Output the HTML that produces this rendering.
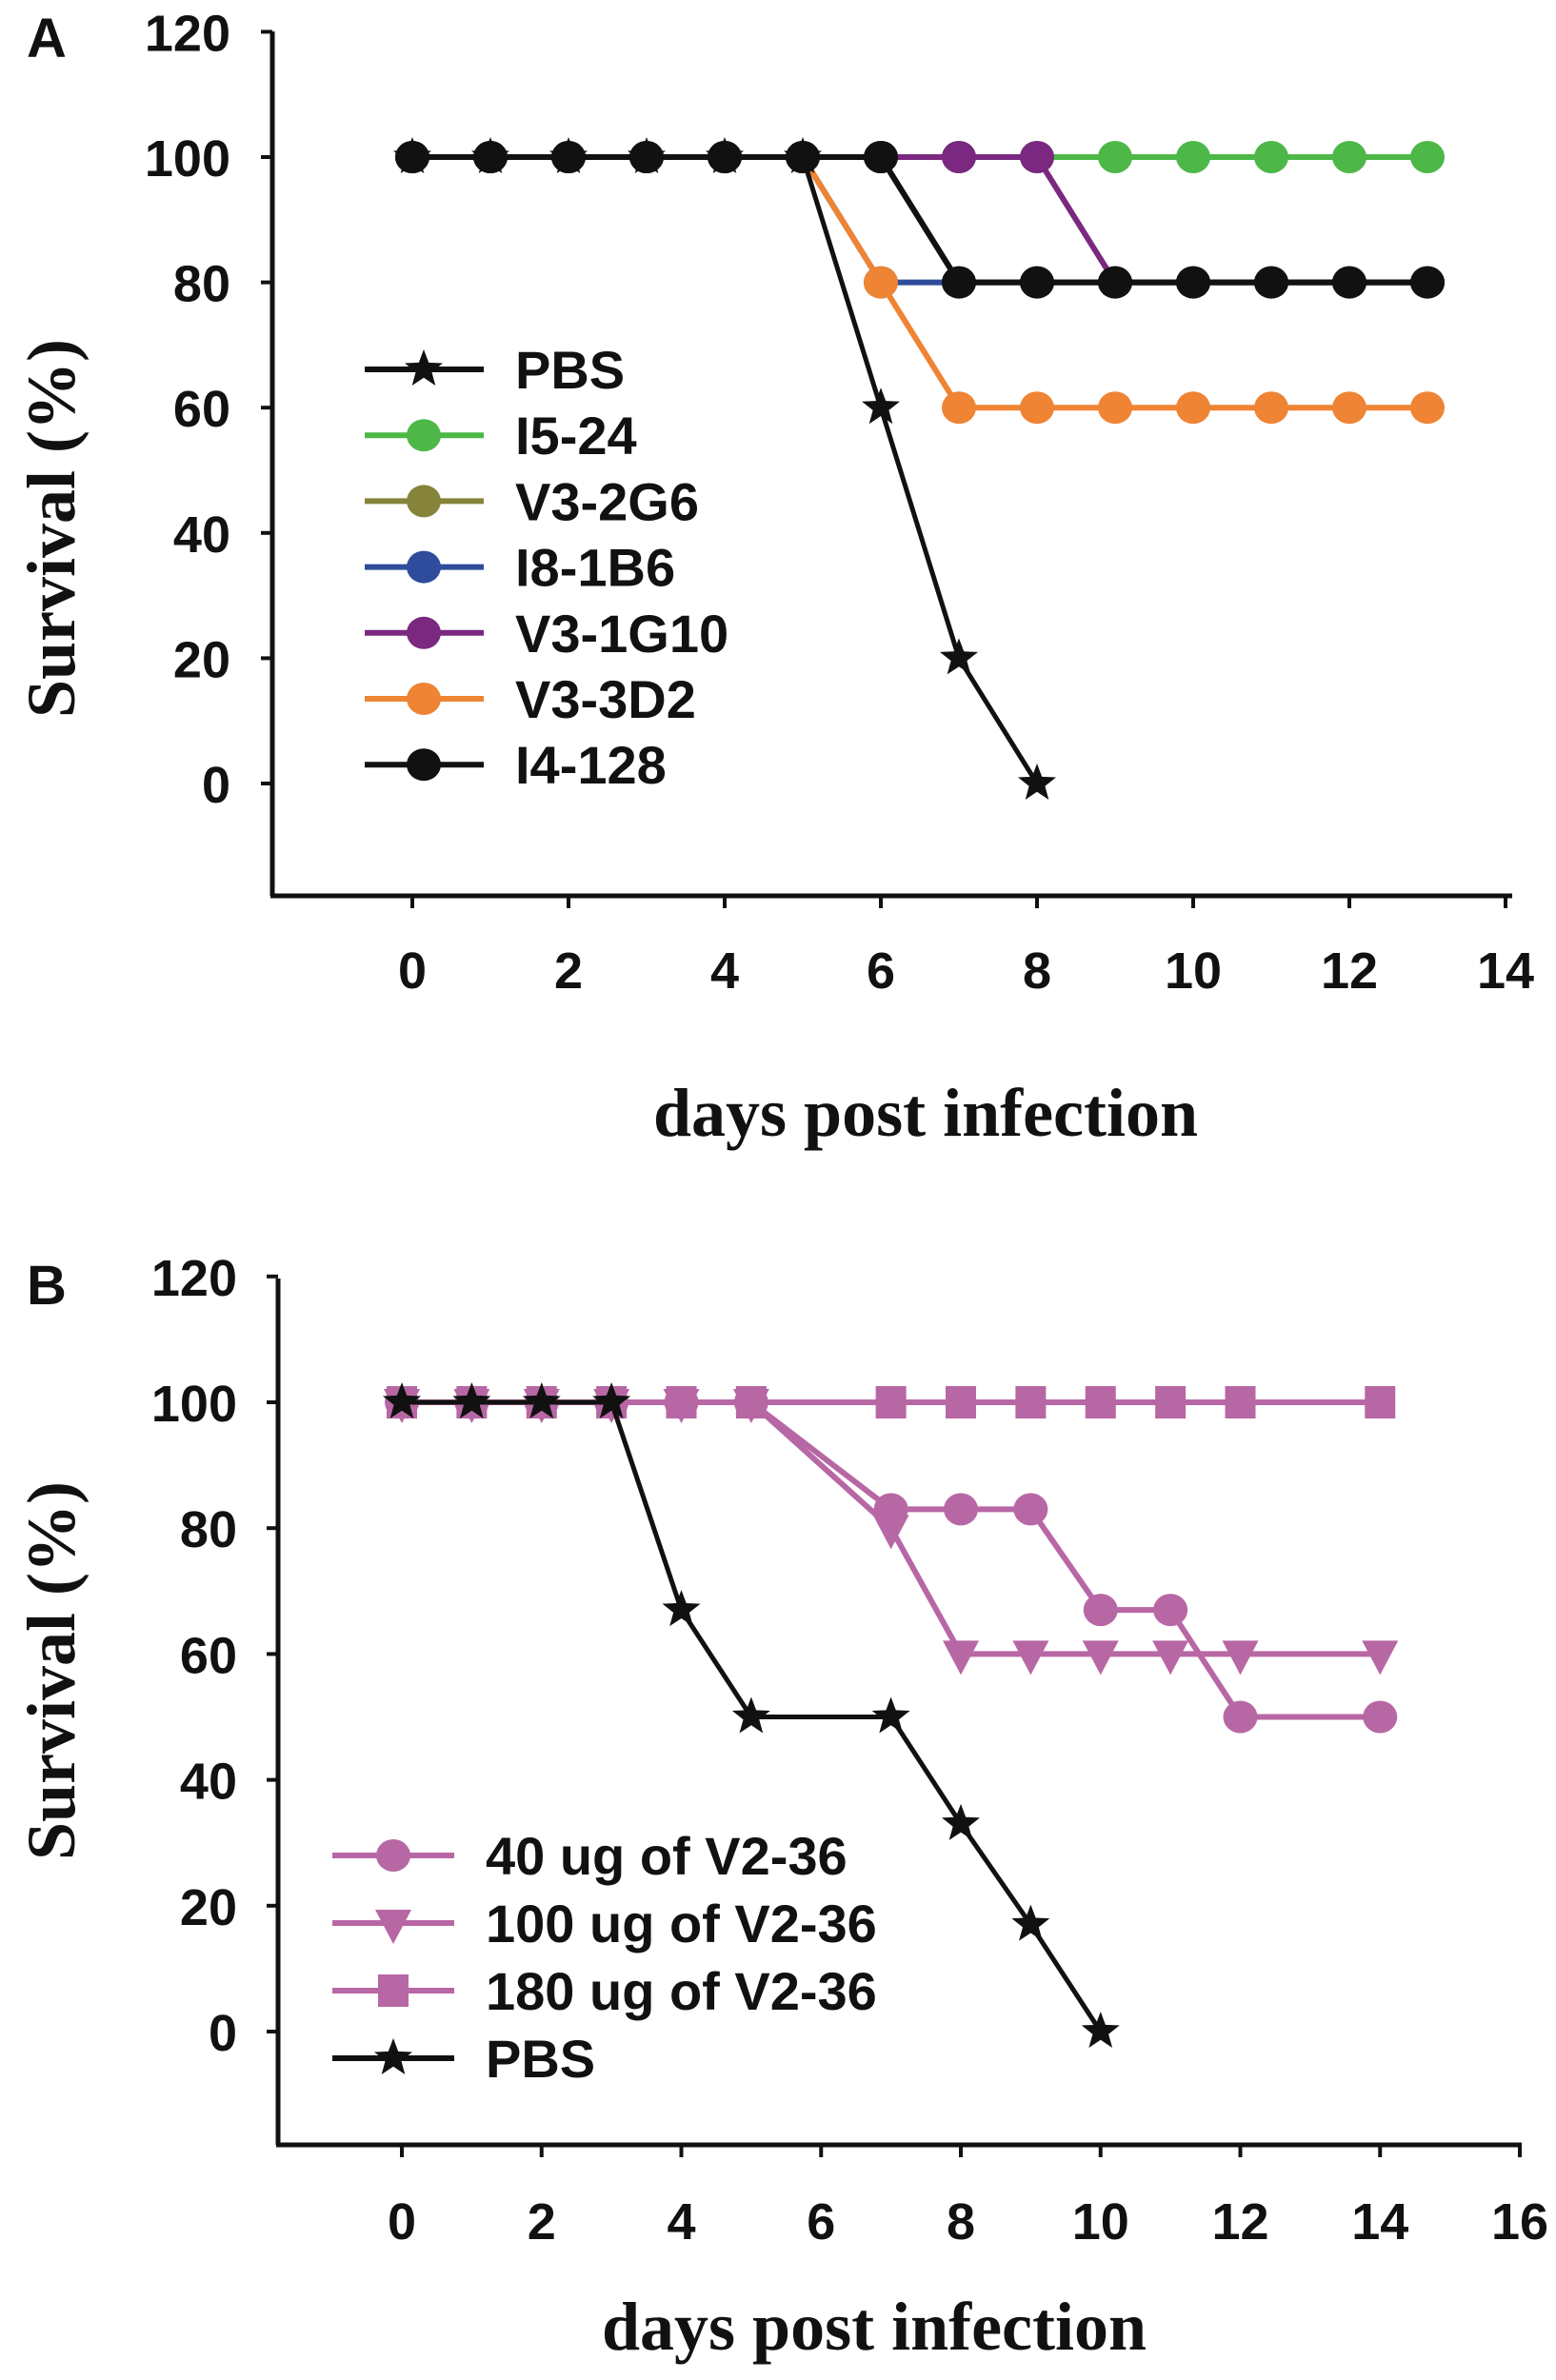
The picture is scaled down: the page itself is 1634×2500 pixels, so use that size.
<!DOCTYPE html>
<html><head><meta charset="utf-8"><style>
html,body{margin:0;padding:0;background:#fff;}
svg{display:block;}
.tk{font-family:"Liberation Sans",Arial,sans-serif;font-weight:bold;font-size:54px;fill:#111;}
.lg{font-family:"Liberation Sans",Arial,sans-serif;font-weight:bold;font-size:56px;fill:#111;}
.tt{font-family:"Liberation Serif","Times New Roman",serif;font-weight:bold;font-size:72px;fill:#111;}
</style></head><body>
<svg id="fig" width="1634" height="2500" viewBox="0 0 1634 2500" xmlns="http://www.w3.org/2000/svg">
<text x="28" y="60" class="tk" style="font-size:58px">A</text>
<text x="28" y="1370" class="tk" style="font-size:58px">B</text>
<text class="tt" transform="translate(78,555) rotate(-90)" text-anchor="middle">Survival (%)</text>
<text class="tt" transform="translate(78,1755) rotate(-90)" text-anchor="middle">Survival (%)</text>
<text class="tt" x="972" y="1193" text-anchor="middle">days post infection</text>
<text class="tt" x="918" y="2468" text-anchor="middle">days post infection</text>
</svg>
<script>
// Panel A data
const aDays = [0,1,2,3,4,5,6,7,8,9,10,11,12,13];
const aPBSDays = [0,1,2,3,4,5,6,7,8];
const aPBS = [100,100,100,100,100,100,60,20,0];
const aI524 = [100,100,100,100,100,100,100,100,100,100,100,100,100,100];
const aV32G6 = [100,100,100,100,100,100,100,80,80,80,80,80,80,80];
const aI81B6 = [100,100,100,100,100,100,80,80,80,80,80,80,80,80];
const aV31G10 = [100,100,100,100,100,100,100,100,100,80,80,80,80,80];
const aV33D2 = [100,100,100,100,100,100,80,60,60,60,60,60,60,60];
const aI4128 = [100,100,100,100,100,100,100,80,80,80,80,80,80,80];
const aXTicks = [0,2,4,6,8,10,12,14];
const aYTicks = [0,20,40,60,80,100,120];
// Panel B data
const bDays = [0,1,2,3,4,5,7,8,9,10,11,12,14];
const b40 = [100,100,100,100,100,100,83,83,83,67,67,50,50];
const b100 = [100,100,100,100,100,100,80,60,60,60,60,60,60];
const b180 = [100,100,100,100,100,100,100,100,100,100,100,100,100];
const bPBSDays = [0,1,2,3,4,5,7,8,9,10];
const bPBS = [100,100,100,100,67,50,50,33,17,0];
const bXTicks = [0,2,4,6,8,10,12,14,16];
const bYTicks = [0,20,40,60,80,100,120];

const NS = "http://www.w3.org/2000/svg";
const svg = document.getElementById('fig');
function mk(tag, attrs, parent){const e=document.createElementNS(NS,tag);for(const k in attrs)e.setAttribute(k,attrs[k]);(parent||svg).appendChild(e);return e;}
function starPts(cx,cy,R){const r=R*0.42;let p=[];for(let i=0;i<10;i++){const a=-Math.PI/2+i*Math.PI/5;const rr=i%2?r:R;p.push((cx+rr*Math.cos(a)).toFixed(1)+','+(cy+rr*Math.sin(a)).toFixed(1));}return p.join(' ');}
function marker(g,type,cx,cy,color){
  let e;
  if(type==='circle'){e=mk('ellipse',{cx:cx,cy:cy,rx:18,ry:17,fill:color},g);}
  else if(type==='star'){e=mk('polygon',{points:starPts(cx,cy,21),fill:'#111'},g);}
  else if(type==='square'){e=mk('rect',{x:cx-16,y:cy-17,width:32,height:34,fill:color},g);}
  else if(type==='tri'){e=mk('polygon',{points:(cx-19)+','+(cy-14)+' '+(cx+19)+','+(cy-14)+' '+cx+','+(cy+22),fill:color},g);}
  
  
}
function axes(ax, name, xt, yt){
  const g=mk('g',{});
  
  
  mk('line',{x1:ax.x0,y1:ax.top,x2:ax.x0,y2:ax.base,stroke:'#111','stroke-width':5},g);
  mk('line',{x1:ax.x0-2,y1:ax.base,x2:ax.right,y2:ax.base,stroke:'#111','stroke-width':5},g);
  yt.forEach(v=>{const y=ax.Y(v);mk('line',{x1:ax.x0-12,y1:y,x2:ax.x0,y2:y,stroke:'#111','stroke-width':4},g);
    const t=mk('text',{x:ax.ylx,y:y+20,'text-anchor':'end','class':'tk'},g);t.textContent=v;
    
    });
  xt.forEach(v=>{const x=ax.X(v);mk('line',{x1:x,y1:ax.base,x2:x,y2:ax.base+13,stroke:'#111','stroke-width':4},g);
    const t=mk('text',{x:x,y:ax.xly,'text-anchor':'middle','class':'tk'},g);t.textContent=v;
    
    });
}
function series(ax,name,xs,ys,color,type,lw){
  const g=mk('g',{});
  
  
  mk('polyline',{points:xs.map((d,i)=>ax.X(d)+','+ax.Y(ys[i])).join(' '),fill:'none',stroke:color,'stroke-width':lw||6,'stroke-linejoin':'round'},g);
  xs.forEach((d,i)=>marker(g,type,ax.X(d),ax.Y(ys[i]),color));
}
function legend(x1,x2,mx,tx,y,label,color,type,name){
  const g=mk('g',{});
  
  
  mk('line',{x1:x1,y1:y,x2:x2,y2:y,stroke:color,'stroke-width':6},g);
  marker(g,type,mx,y,color);
  const t=mk('text',{x:tx,y:y+20,'class':'lg'},g);t.textContent=label;
}
// Panel A axes
const A={x0:286,top:33,base:941,right:1588,ylx:242,xly:1038,
  X:d=>433+d*(1581-433)/14, Y:v=>823-v*(823-165)/100};
axes(A,'panel-a',aXTicks,aYTicks);
const cG='#4db848',cO='#86843a',cB='#2f4c9c',cP='#7b2880',cOr='#ee8434',cK='#111';
series(A,'series-i5-24',aDays,aI524,cG,'circle');
series(A,'series-v3-2g6',aDays,aV32G6,cO,'circle');
series(A,'series-i8-1b6',aDays,aI81B6,cB,'circle');
series(A,'series-v3-1g10',aDays,aV31G10,cP,'circle');
series(A,'series-v3-3d2',aDays,aV33D2,cOr,'circle');
series(A,'series-i4-128',aDays,aI4128,cK,'circle');
series(A,'series-pbs-a',aPBSDays,aPBS,cK,'star',5);
const aLeg=[['PBS',cK,'star'],['I5-24',cG,'circle'],['V3-2G6',cO,'circle'],['I8-1B6',cB,'circle'],['V3-1G10',cP,'circle'],['V3-3D2',cOr,'circle'],['I4-128',cK,'circle']];
aLeg.forEach((l,i)=>legend(383,508,445,541,388+i*69.2,l[0],l[1],l[2],'legend-entry-'+l[0].toLowerCase()));
// Panel B axes
const B={x0:292,top:1343,base:2253,right:1598,ylx:249,xly:2352,
  X:d=>422+d*(1596-422)/16, Y:v=>2134-v*(2134-1473)/100};
axes(B,'panel-b',bXTicks,bYTicks);
const cM='#b867a5';
series(B,'series-180ug',bDays,b180,cM,'square');
series(B,'series-100ug',bDays,b100,cM,'tri');
series(B,'series-40ug',bDays,b40,cM,'circle');
series(B,'series-pbs-b',bPBSDays,bPBS,cK,'star',5);
const bLeg=[['40 ug of V2-36',cM,'circle'],['100 ug of V2-36',cM,'tri'],['180 ug of V2-36',cM,'square'],['PBS',cK,'star']];
bLeg.forEach((l,i)=>legend(349,477,413,510,1949+i*71,l[0],l[1],l[2],'legend-entry-'+l[0].toLowerCase().replace(/ /g,'-')));
</script>
</body></html>
